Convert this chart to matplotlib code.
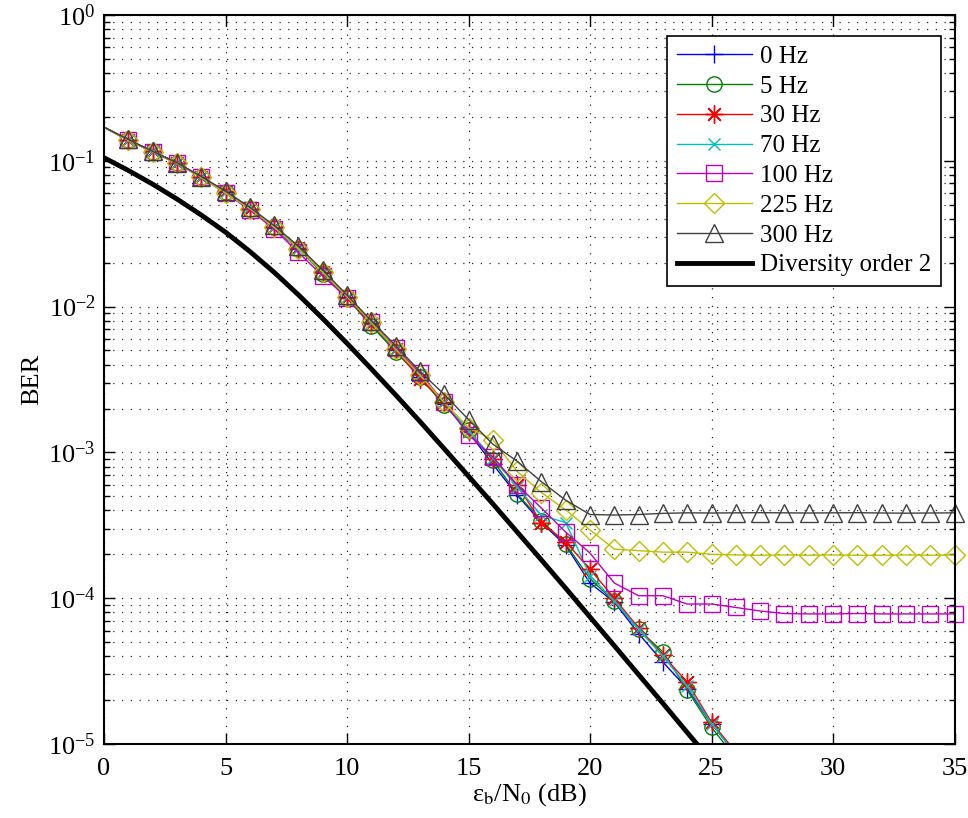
import numpy as np
import matplotlib
matplotlib.use("Agg")
import matplotlib.pyplot as plt
from matplotlib.ticker import LogLocator, NullLocator, NullFormatter, FixedLocator

plt.rcParams['font.family'] = ['Liberation Serif', 'DejaVu Serif']
plt.rcParams['mathtext.fontset'] = 'stix'

# Eb/N0 (dB)
snr = list(range(36))

# BER per Doppler frequency (series stop where they leave the axes)
ber_0hz = [0.170, 0.139, 0.116, 0.097, 0.077, 0.061, 0.047, 0.0345, 0.0248, 0.0171,
           0.0116, 0.0077, 0.0050, 0.0033, 0.00215, 0.00138, 0.00083, 0.00051, 0.00033, 0.00023,
           0.000127, 0.000094, 0.0000572, 0.0000365, 0.000024, 0.0000138, 0.0000085]
ber_5hz = [0.170, 0.138, 0.115, 0.096, 0.078, 0.061, 0.047, 0.035, 0.025, 0.0168,
           0.0114, 0.0074, 0.0049, 0.0033, 0.0021, 0.00142, 0.00088, 0.00052, 0.00034, 0.000235,
           0.000136, 0.000095, 0.000061, 0.0000428, 0.0000234, 0.000013, 0.000008]
ber_30hz = [0.170, 0.139, 0.116, 0.097, 0.077, 0.062, 0.047, 0.035, 0.0252, 0.0172,
            0.0115, 0.0076, 0.0051, 0.0032, 0.0022, 0.0014, 0.0009, 0.0006, 0.00033, 0.000243,
            0.000158, 0.0001, 0.0000625, 0.0000405, 0.0000266, 0.0000141, 0.0000088]
ber_70hz = [0.170, 0.139, 0.116, 0.097, 0.077, 0.061, 0.048, 0.035, 0.025, 0.0172,
            0.0117, 0.0077, 0.0051, 0.0034, 0.0022, 0.0014, 0.00092, 0.00058, 0.00037, 0.00033,
            0.000143, 0.000096, 0.000061, 0.00004, 0.000025, 0.0000138, 0.0000085]
ber_100hz = [0.170, 0.139, 0.115, 0.096, 0.077, 0.060, 0.046, 0.034, 0.0235, 0.0162,
             0.0115, 0.0078, 0.0052, 0.0035, 0.0022, 0.00132, 0.00093, 0.0006, 0.000415, 0.000284,
             0.000204, 0.000127, 0.000104, 0.000104, 0.0000912, 0.0000912, 0.0000864, 0.0000817, 0.0000785, 0.000078,
             0.000078, 0.0000785, 0.000078, 0.000078, 0.000078, 0.000078]
ber_225hz = [0.170, 0.138, 0.115, 0.096, 0.077, 0.060, 0.047, 0.035, 0.025, 0.0172,
             0.0117, 0.0078, 0.0051, 0.0034, 0.0022, 0.00148, 0.00122, 0.00074, 0.00053, 0.000403,
             0.000294, 0.000217, 0.000212, 0.000207, 0.000207, 0.0002, 0.000198, 0.000197, 0.000198, 0.000197,
             0.000198, 0.000197, 0.000197, 0.000198, 0.000197, 0.000198]
ber_300hz = [0.170, 0.140, 0.116, 0.097, 0.078, 0.062, 0.048, 0.036, 0.026, 0.0178,
             0.0120, 0.0080, 0.0054, 0.0036, 0.0025, 0.00168, 0.00114, 0.00087, 0.00063, 0.00047,
             0.000375, 0.000372, 0.000375, 0.000382, 0.000385, 0.000384, 0.000385, 0.000386, 0.000385, 0.000384,
             0.000385, 0.000386, 0.000384, 0.000383, 0.000384, 0.000385]
# diversity order 2 reference
ber_div2 = [0.105, 0.0859, 0.0692, 0.0547, 0.0425, 0.0324, 0.0239, 0.0172, 0.01205, 0.00828,
            0.0056, 0.00374, 0.00248, 0.00163, 0.00106, 0.000687, 0.000444, 0.000285, 0.000183, 0.000117,
            0.0000743, 0.0000472, 0.0000299, 0.000019, 0.000012, 0.00000759]

series = [
    ('0 Hz', ber_0hz, 'b', '+', True),
    ('5 Hz', ber_5hz, (0, 0.5, 0), 'o', True),
    ('30 Hz', ber_30hz, 'r', (8, 2, 0), True),
    ('70 Hz', ber_70hz, (0, 0.75, 0.75), 'x', True),
    ('100 Hz', ber_100hz, (0.75, 0, 0.75), 's', False),
    ('225 Hz', ber_225hz, (0.75, 0.75, 0), 'D', False),
    ('300 Hz', ber_300hz, (0.25, 0.25, 0.25), '^', False),
]
msizes = [13, 11, 13, 9, 11, 10.5, 13]

fig = plt.figure(figsize=(9.68, 8.18), dpi=100)
ax = fig.add_axes([104/968, 1-744/818, (954.5-104)/968, (744-15)/818])

for (name, vals, col, mk, clip), ms in zip(series, msizes):
    x = snr[:len(vals)]
    ax.plot(x, vals, color=col, lw=1.0, marker=mk, ms=ms, mfc='none',
            mec=col, mew=1.0, markevery=list(range(1, len(vals))), clip_on=clip,
            label=name)
ax.plot(snr[:len(ber_div2)], ber_div2, color='k', lw=3.5, label='Diversity order 2')

ax.set_yscale('log')
ax.set_xlim(0, 35)
ax.set_ylim(1e-5, 1)
ax.set_xticks([0, 5, 10, 15, 20, 25, 30, 35])
ax.xaxis.set_minor_locator(NullLocator())
ax.yaxis.set_major_locator(FixedLocator([1e-5, 1e-4, 1e-3, 1e-2, 1e-1, 1]))
ax.yaxis.set_minor_locator(LogLocator(base=10, subs=np.arange(2, 10), numticks=20))
ax.yaxis.set_minor_formatter(NullFormatter())

ax.grid(True, which='major', axis='x', color='0.15', ls=(0, (1, 6)), lw=0.9)
ax.grid(True, which='both', axis='y', color='0.15', ls=(0, (1, 6)), lw=0.9)

ax.tick_params(which='both', direction='in', top=True, right=True, labelsize=19, width=1.0)
ax.tick_params(which='major', length=8)
ax.tick_params(which='minor', length=4)
ax.tick_params(axis='y', pad=6)
ax.tick_params(axis='x', pad=10)
for s in ax.spines.values():
    s.set_linewidth(1.5)

ax.set_xlabel('ε$_\\mathrm{b}$/N$_\\mathrm{0}$ (dB)', fontsize=19, labelpad=1)
ax.set_ylabel('BER', fontsize=19, labelpad=3)

leg = ax.legend(loc='upper right', bbox_to_anchor=(941/968, 1-36/818),
                bbox_transform=fig.transFigure, borderaxespad=0, fontsize=18,
                fancybox=False, framealpha=1, edgecolor='k', handlelength=3.0,
                labelspacing=0.29, borderpad=0.38, handletextpad=0.35)
leg.get_frame().set_linewidth(1.2)

fig.savefig('out.png', dpi=100)
